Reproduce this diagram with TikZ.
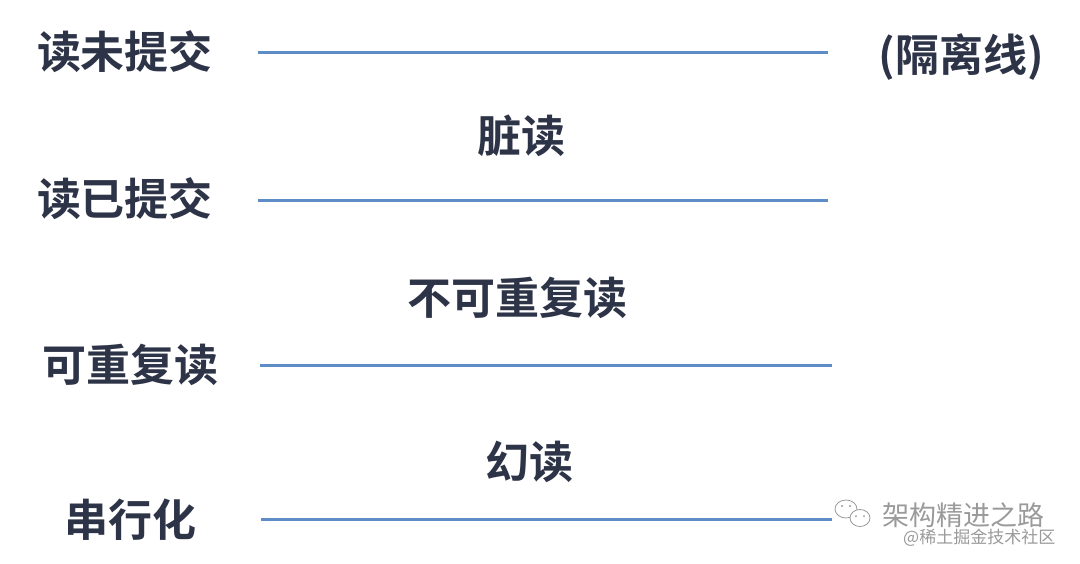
\documentclass[tikz,border=0pt]{standalone}
\usepackage{fontspec}
\newfontfamily\cjk{Noto Sans CJK SC}[BoldFont={Noto Sans CJK SC Bold}]
\definecolor{txt}{HTML}{2E3447}
\definecolor{lineblue}{HTML}{5D8CC6}
\definecolor{wm}{HTML}{9A9A9A}
\begin{document}
\begin{tikzpicture}[x=1pt,y=-1pt,
  lbl/.style={font=\cjk\bfseries\fontsize{44}{48}\selectfont, text=txt, inner sep=0pt, anchor=center},
  sep/.style={draw=lineblue, line width=3pt},
  wmark/.style={text=wm, inner sep=0pt, anchor=west}]
\useasboundingbox[fill=white] (0,0) rectangle (1080,563);
% left labels
\node[lbl] (l1) at (125,52) {读未提交};
\node[lbl] (l2) at (125,199) {读已提交};
\node[lbl] (l3) at (130,365) {可重复读};
\node[lbl] (l4) at (130,520) {串行化};
% right label
\node[lbl] (iso) at (961,57) {(隔离线)};
% middle labels
\node[lbl] (m1) at (521,136) {脏读};
\node[lbl] (m2) at (517,298) {不可重复读};
\node[lbl] (m3) at (529,462) {幻读};
% lines
\coordinate (a1) at (258,52);  \coordinate (b1) at (828,52);
\coordinate (a2) at (258,200); \coordinate (b2) at (828,200);
\coordinate (a3) at (260,365); \coordinate (b3) at (832,365);
\coordinate (a4) at (261,519); \coordinate (b4) at (832,519);
\draw[sep] (a1) -- (b1);
\draw[sep] (a2) -- (b2);
\draw[sep] (a3) -- (b3);
\draw[sep] (a4) -- (b4);
% watermark
\draw[wm, line width=0.8pt] (846,509) ellipse (11 and 9);
\draw[wm, line width=0.8pt, fill=white] (860,518) ellipse (10 and 8.5);
\fill[wm] (842,506) circle (1.1) (850,506) circle (1.1) (856,516) circle (1) (864,516) circle (1);
\node[wmark, font=\cjk\fontsize{27}{30}\selectfont] (wm1) at (882,515) {架构精进之路};
\node[wmark, font=\cjk\fontsize{17}{19}\selectfont] (wm2) at (903,538) {@稀土掘金技术社区};
\end{tikzpicture}
\end{document}
